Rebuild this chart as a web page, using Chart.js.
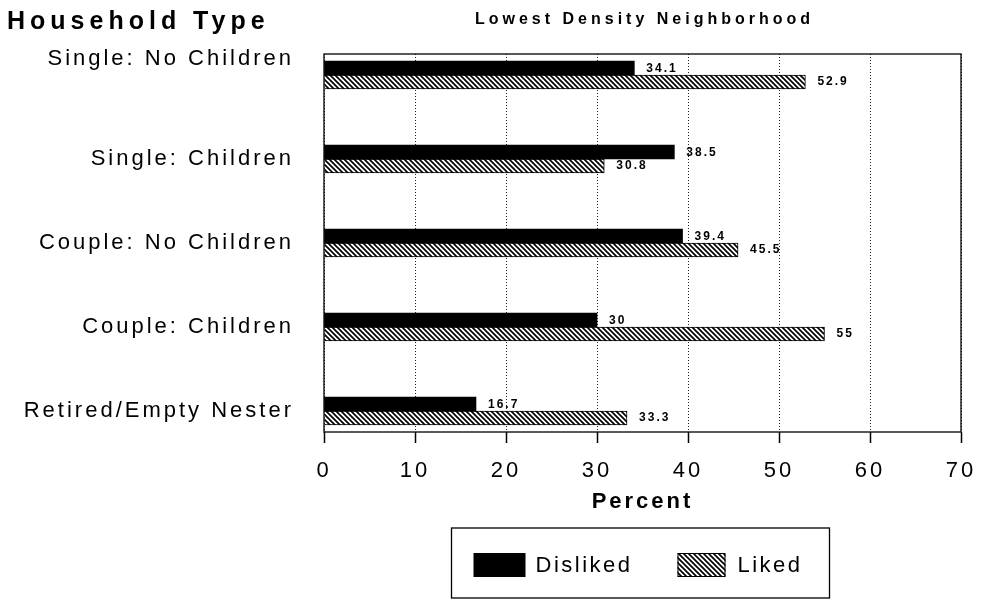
<!DOCTYPE html>
<html>
<head>
<meta charset="utf-8">
<script src="https://cdn.jsdelivr.net/npm/chart.js@4/dist/chart.umd.min.js"></script>
<style>
  html, body { margin:0; padding:0; background:#fff; }
  #wrap { width:981px; height:601px; }
</style>
</head>
<body>
<div id="wrap"><canvas id="chart" width="981" height="601"></canvas></div>
<script>
const categories = ['Single: No Children','Single: Children','Couple: No Children','Couple: Children','Retired/Empty Nester'];
const disliked = [34.1, 38.5, 39.4, 30, 16.7];
const liked = [52.9, 30.8, 45.5, 55, 33.3];
const seriesNames = ['Disliked','Liked'];
const xTicks = [0,10,20,30,40,50,60,70];
const chartTitle = 'Lowest Density Neighborhood';
const axisTitleY = 'Household Type';
const axisTitleX = 'Percent';

const FONT = "'Liberation Sans', Arial, sans-serif";

function makeHatch(){
  const c = document.createElement('canvas');
  c.width = 5; c.height = 5;
  const g = c.getContext('2d');
  g.fillStyle = '#fff';
  g.fillRect(0,0,5,5);
  g.strokeStyle = '#000';
  g.lineWidth = 1.7;
  [-5,0,5].forEach(k=>{
    g.beginPath();
    g.moveTo(k-1,-1);
    g.lineTo(k+6,6);
    g.stroke();
  });
  return document.getElementById('chart').getContext('2d').createPattern(c,'repeat');
}
const hatch = makeHatch();

function txt(ctx, s, x, y, font, spacing, align){
  ctx.save();
  ctx.font = font;
  ctx.letterSpacing = spacing + 'px';
  ctx.fillStyle = '#000';
  ctx.textAlign = align || 'left';
  ctx.textBaseline = 'middle';
  ctx.fillText(s, x, y);
  ctx.restore();
}

// wide spaced lettering like the original scan
const spacing = {
  id:'spacing',
  beforeUpdate(c){ c.ctx.letterSpacing = '3px'; },
  beforeLayout(c){ c.ctx.letterSpacing = '3px'; },
  beforeDraw(c){ c.ctx.letterSpacing = '3px'; }
};

const extras = {
  id:'extras',
  afterDatasetsDraw(c){
    const ctx = c.ctx;
    [disliked, liked].forEach((vals, di)=>{
      const meta = c.getDatasetMeta(di);
      meta.data.forEach((bar, i)=>{
        txt(ctx, String(vals[i]), bar.x + 12, bar.y + (di===0 ? 1 : 0), 'bold 12px ' + FONT, 2);
      });
    });
  },
  afterDraw(c){
    const ctx = c.ctx;
    const a = c.chartArea;
    // plot frame
    ctx.save();
    ctx.strokeStyle = '#000';
    ctx.lineWidth = 1.3;
    ctx.setLineDash([]);
    ctx.strokeRect(a.left, a.top, a.right - a.left, a.bottom - a.top);
    ctx.restore();

    txt(ctx, axisTitleY, 7, 22, 'bold 25px ' + FONT, 5);
    txt(ctx, chartTitle, (a.left + a.right)/2 + 2, 20, 'bold 16px ' + FONT, 4, 'center');

    // legend box
    const cx = (a.left + a.right)/2 - 2;
    const bx = cx - 189, by = 528, bw = 378, bh = 70;
    ctx.save();
    ctx.strokeStyle = '#000';
    ctx.lineWidth = 1.3;
    ctx.strokeRect(bx, by, bw, bh);
    const ds = c.data.datasets;
    ctx.fillStyle = ds[0].backgroundColor;
    ctx.fillRect(bx + 22, 553, 52, 24);
    ctx.fillStyle = ds[1].backgroundColor;
    ctx.fillRect(bx + 226, 553, 48, 24);
    ctx.lineWidth = 1;
    ctx.strokeRect(bx + 226.5, 553.5, 47, 23);
    ctx.restore();
    txt(ctx, ds[0].label, bx + 84, 566, '22px ' + FONT, 2.5);
    txt(ctx, ds[1].label, bx + 286, 566, '22px ' + FONT, 2.5);
  }
};

new Chart(document.getElementById('chart'), {
  type:'bar',
  data:{
    datasets:[
      { label:seriesNames[0], data:disliked.map((v,i)=>({x:v, y:i})), backgroundColor:'#000', borderWidth:0, barThickness:14 },
      { label:seriesNames[1], data:liked.map((v,i)=>({x:v, y:i})), backgroundColor:hatch, borderColor:'#000', borderWidth:1, barThickness:14 }
    ]
  },
  options:{
    indexAxis:'y',
    responsive:false,
    animation:false,
    events:[],
    layout:{ padding:{ top:54, right:20, bottom:86, left:0 } },
    plugins:{ legend:{ display:false }, title:{ display:false }, tooltip:{ enabled:false } },
    scales:{
      x:{
        type:'linear',
        position:'bottom',
        min:0, max:70,
        afterBuildTicks(s){ s.ticks = xTicks.map(v=>({value:v})); },
        afterFit(s){ s.height = 83; s.paddingLeft = 0; s.paddingRight = 0; },
        grid:{ color:'#222', lineWidth:1, drawTicks:true, tickLength:11, tickColor:'#000', tickWidth:1.5, tickBorderDash:[] },
        border:{ display:false, dash:[1,2] },
        ticks:{ color:'#000', font:{ family:FONT, size:22 }, padding:15, maxRotation:0, autoSkip:false },
        title:{ display:true, text:axisTitleX, color:'#000', font:{ family:FONT, size:22, weight:'bold' }, padding:{ top:0, bottom:0 } }
      },
      y:{
        type:'linear',
        reverse:true,
        offset:false,
        min:-0.25, max:4.25,
        // the top label sits a little above its bars in the original
        afterBuildTicks(s){ s.ticks = categories.map((c,i)=>({value: i === 0 ? -0.19 : i})); },
        afterFit(s){ s.width = 324; s.paddingTop = 0; s.paddingBottom = 0; },
        grid:{ display:false, drawTicks:false, offset:false },
        border:{ display:false },
        ticks:{ color:'#000', font:{ family:FONT, size:22 }, padding:30, autoSkip:false,
          callback:(v,i)=>categories[i] }
      }
    }
  },
  plugins:[spacing, extras]
});
</script>
</body>
</html>
